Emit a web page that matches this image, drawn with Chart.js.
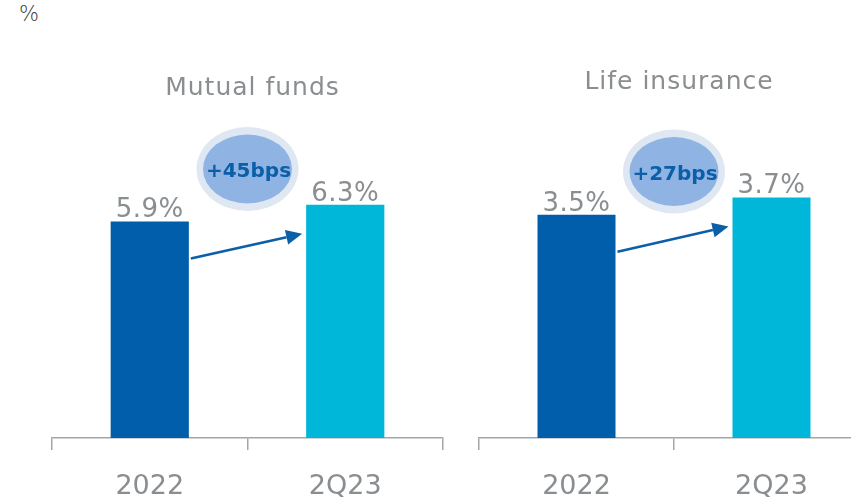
<!DOCTYPE html>
<html><head><meta charset="utf-8">
<script src="https://cdn.jsdelivr.net/npm/chart.js@4/dist/chart.umd.min.js"></script>
<style>
html,body{margin:0;padding:0;width:851px;height:501px;overflow:hidden;background:#fff;position:relative}
#unit{position:absolute;left:19px;top:2px;font:200 21px 'DejaVu Sans';color:#3c3c3c}
canvas{position:absolute;top:0}
#c1{left:0}
#c2{left:460px}
</style></head><body>
<div id="unit"></div>
<canvas id="c1" width="460" height="523"></canvas>
<canvas id="c2" width="420" height="523"></canvas>
<script>
const unitLabel = '%';
const categories = ['2022', '2Q23'];
const panelTitles = ['Mutual funds', 'Life insurance'];
const mutualFunds = [5.87, 6.32];
const lifeInsurance = [3.46, 3.73];
const changeLabels = ['+45bps', '+27bps'];

document.getElementById('unit').textContent = unitLabel;

const FONT = '"DejaVu Sans"';
const GREY = '#8b8e90';
const BAR_COLORS = ['#005eaa', '#00b6d9'];

const decor = {
  id: 'decor',
  afterDatasetsDraw(chart, args, o) {
    const ctx = chart.ctx;
    const meta = chart.getDatasetMeta(0);
    const vals = chart.data.datasets[0].data;
    const b0 = meta.data[0], b1 = meta.data[1];
    ctx.save();
    // value labels
    ctx.fillStyle = GREY;
    ctx.textAlign = 'center';
    ctx.textBaseline = 'alphabetic';
    ctx.font = '26px ' + FONT;
    ctx.letterSpacing = '0.5px';
    meta.data.forEach((bar, i) => ctx.fillText(vals[i].toFixed(1) + '%', bar.x, bar.y - 4));
    // panel title
    const mid = (b0.x + b1.x) / 2;
    ctx.font = '25px ' + FONT;
    ctx.letterSpacing = '1px';
    ctx.fillText(o.title, mid + 5, o.titleY);
    ctx.letterSpacing = '0px';
    // arrow
    const x0 = b0.x + b0.width / 2 + 2, y0 = b0.y + 37;
    const x1 = b1.x - b1.width / 2 - 4, y1 = b1.y + 29;
    const ang = Math.atan2(y1 - y0, x1 - x0);
    const L = 16, W = 7.5;
    const bx = x1 - L * Math.cos(ang), by = y1 - L * Math.sin(ang);
    ctx.strokeStyle = '#0b5fa8';
    ctx.fillStyle = '#0b5fa8';
    ctx.lineWidth = 2.6;
    ctx.beginPath(); ctx.moveTo(x0, y0); ctx.lineTo(bx, by); ctx.stroke();
    ctx.beginPath();
    ctx.moveTo(x1, y1);
    ctx.lineTo(bx - W * Math.sin(ang), by + W * Math.cos(ang));
    ctx.lineTo(bx + W * Math.sin(ang), by - W * Math.cos(ang));
    ctx.closePath(); ctx.fill();
    // bubble
    const cy = o.bubbleY;
    ctx.fillStyle = '#dfe7f3';
    ctx.beginPath(); ctx.ellipse(mid, cy, 51, 42, 0, 0, Math.PI * 2); ctx.fill();
    ctx.fillStyle = '#8fb4e3';
    ctx.beginPath(); ctx.ellipse(mid, cy, 44.5, 34.5, 0, 0, Math.PI * 2); ctx.fill();
    ctx.fillStyle = '#0b5ea8';
    ctx.font = 'bold 20px ' + FONT;
    ctx.textBaseline = 'middle';
    ctx.fillText(o.change, mid + 1, cy + 3);
    ctx.restore();
  }
};

function makePanel(id, values, title, change, yMax, pad, titleY, bubbleY) {
  return new Chart(document.getElementById(id), {
    type: 'bar',
    data: {
      labels: categories,
      datasets: [{
        data: values,
        backgroundColor: BAR_COLORS,
        borderWidth: 0,
        barPercentage: 0.4,
        categoryPercentage: 1
      }]
    },
    options: {
      responsive: false,
      animation: false,
      devicePixelRatio: 1,
      layout: { padding: pad },
      plugins: {
        legend: { display: false },
        tooltip: { enabled: false },
        decor: { title, change, titleY, bubbleY }
      },
      scales: {
        y: { display: false, min: 0, max: yMax },
        x: {
          offset: true,
          border: { display: true, color: '#a3a5a7', width: 1.5 },
          grid: { display: true, offset: true, drawOnChartArea: false, drawTicks: true, tickLength: 12, color: '#a3a5a7', lineWidth: 1.5 },
          ticks: { color: GREY, padding: 23, font: { family: 'DejaVu Sans', size: 27, lineHeight: 1 } }
        }
      }
    },
    plugins: [decor]
  });
}

makePanel('c1', mutualFunds, panelTitles[0], changeLabels[0], 10,
  { left: 52, right: 17, top: 69, bottom: 0 }, 95, 169);
makePanel('c2', lifeInsurance, panelTitles[1], changeLabels[1], 6,
  { left: 19, right: 11, top: 51, bottom: 0 }, 89, 171.5);
</script>
</body></html>
